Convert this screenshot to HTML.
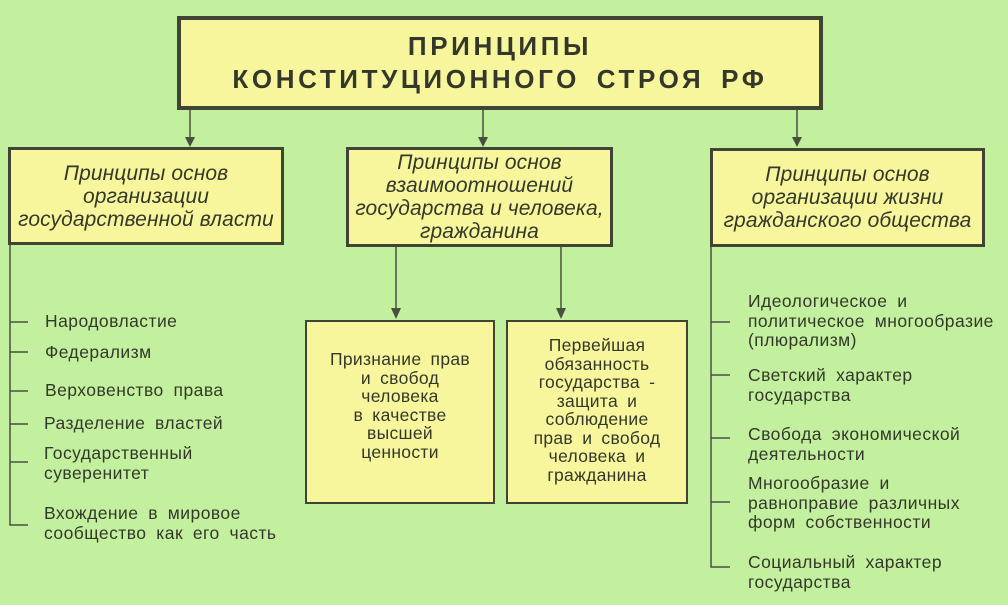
<!DOCTYPE html>
<html><head><meta charset="utf-8"><style>
body{margin:0;width:1008px;height:605px;background:#c3f09f;position:relative;overflow:hidden;font-family:"Liberation Sans","DejaVu Sans",sans-serif;color:#34382a}
.b{position:absolute;background:#f7f69c;border:3px solid #3f4434;box-sizing:border-box;display:flex;align-items:center;justify-content:center;text-align:center}
.i{font-style:italic;font-size:21px;line-height:23px;letter-spacing:.1px}
.t{position:absolute;font-size:17.5px;line-height:19.5px;word-spacing:4.5px;letter-spacing:.45px;white-space:nowrap}
.m{font-size:17.5px;line-height:18.5px;word-spacing:4px;letter-spacing:.3px}
</style></head><body>
<svg width="1008" height="605" style="position:absolute;left:0;top:0" stroke="#4a5040" stroke-width="1.5" fill="#4a5040">
<line x1="190" y1="109" x2="190" y2="140"/><polygon points="185,137 195,137 190,147" stroke="none"/>
<line x1="483" y1="109" x2="483" y2="140"/><polygon points="478,137 488,137 483,147" stroke="none"/>
<line x1="797" y1="109" x2="797" y2="140"/><polygon points="792,137 802,137 797,147" stroke="none"/>
<line x1="396" y1="246" x2="396" y2="311"/><polygon points="391,308 401,308 396,319" stroke="none"/>
<line x1="561" y1="246" x2="561" y2="311"/><polygon points="556,308 566,308 561,319" stroke="none"/>
<polyline fill="none" points="10,244 10,525 28,525"/>
<line x1="10" y1="322" x2="28" y2="322"/><line x1="10" y1="352" x2="28" y2="352"/><line x1="10" y1="391" x2="28" y2="391"/><line x1="10" y1="424" x2="28" y2="424"/><line x1="10" y1="462" x2="28" y2="462"/>
<polyline fill="none" points="711,246 711,567 730,567"/>
<line x1="711" y1="322" x2="730" y2="322"/><line x1="711" y1="375" x2="730" y2="375"/><line x1="711" y1="438" x2="730" y2="438"/><line x1="711" y1="502" x2="730" y2="502"/>
</svg>
<div class="b" style="left:177px;top:16px;width:646px;height:94px;border-width:4px;font-weight:bold;font-size:26px;line-height:33px;letter-spacing:3.6px;word-spacing:6px">ПРИНЦИПЫ<br>КОНСТИТУЦИОННОГО СТРОЯ РФ</div>
<div class="b i" style="left:8px;top:147px;width:276px;height:98px">Принципы основ<br>организации<br>государственной власти</div>
<div class="b i" style="left:346px;top:147px;width:267px;height:100px">Принципы основ<br>взаимоотношений<br>государства и человека,<br>гражданина</div>
<div class="b i" style="left:710px;top:148px;width:275px;height:99px">Принципы основ<br>организации жизни<br>гражданского общества</div>
<div class="b m" style="left:305px;top:320px;width:190px;height:184px;border-width:2px;align-items:flex-start;padding-top:28px">Признание прав<br>и свобод<br>человека<br>в качестве<br>высшей<br>ценности</div>
<div class="b m" style="left:506px;top:320px;width:182px;height:184px;border-width:2px;align-items:flex-start;padding-top:14px">Первейшая<br>обязанность<br>государства -<br>защита и<br>соблюдение<br>прав и свобод<br>человека и<br>гражданина</div>
<div class="t" style="left:45px;top:312px">Народовластие</div>
<div class="t" style="left:45px;top:343px">Федерализм</div>
<div class="t" style="left:45px;top:381px">Верховенство права</div>
<div class="t" style="left:44px;top:414px">Разделение властей</div>
<div class="t" style="left:44px;top:444px">Государственный<br>суверенитет</div>
<div class="t" style="left:44px;top:504px">Вхождение в мировое<br>сообщество как его часть</div>
<div class="t" style="left:748px;top:292px">Идеологическое и<br>политическое многообразие<br>(плюрализм)</div>
<div class="t" style="left:748px;top:366px">Светский характер<br>государства</div>
<div class="t" style="left:748px;top:425px">Свобода экономической<br>деятельности</div>
<div class="t" style="left:748px;top:474px">Многообразие и<br>равноправие различных<br>форм собственности</div>
<div class="t" style="left:748px;top:553px">Социальный характер<br>государства</div>
</body></html>
